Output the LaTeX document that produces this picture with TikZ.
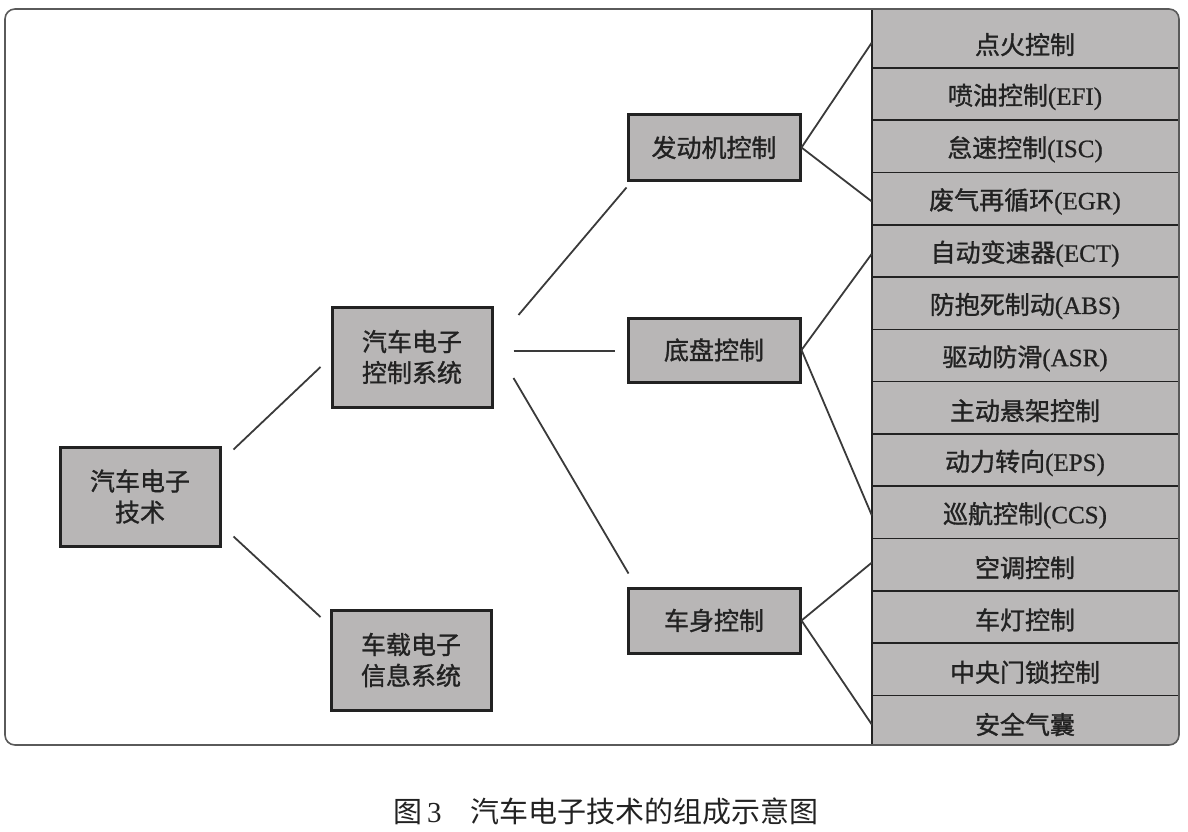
\documentclass[tikz,border=0pt]{standalone}
\usepackage{fontspec}
\setmainfont{Liberation Serif}
\newfontfamily\cjk{Noto Sans CJK SC}
\newfontfamily\cjkb[FakeBold=1.2]{Noto Sans CJK SC}
\newfontfamily\latb[FakeBold=0.8]{Liberation Serif}
\usetikzlibrary{calc}
\definecolor{boxgray}{RGB}{184,182,182}
\definecolor{colgray}{RGB}{186,184,184}
\definecolor{inkdark}{RGB}{34,34,34}
\definecolor{linegray}{RGB}{58,58,58}
\definecolor{framegray}{RGB}{90,90,90}
\begin{document}
\begin{tikzpicture}[x=1pt,y=-1pt,
  box/.style={draw=inkdark, line width=3pt, fill=boxgray, inner sep=0pt,
    align=center, text=inkdark, font=\cjkb\fontsize{25}{31}\selectfont},
  rowtext/.style={minimum width=306pt, minimum height=52pt, inner sep=0pt,
    text=inkdark, font=\cjkb\fontsize{25}{30}\selectfont},
  conn/.style={draw=linegray, line width=1.8pt},
  sepline/.style={draw=inkdark, line width=1.6pt}]
\useasboundingbox (0,0) rectangle (1188,832);
% right column background
\fill[colgray, rounded corners=10pt] (872,9) rectangle (1179,745);
\fill[colgray] (872,9) rectangle (1000,745);
\foreach \k in {1,...,13}
  \draw[sepline] (872,15.5+52.3*\k) -- (1179,15.5+52.3*\k);
\draw[draw=inkdark, line width=1.6pt] (872,9) -- (872,745);
% outer frame
\draw[draw=framegray, line width=1.6pt, rounded corners=10pt] (5,9) rectangle (1179,745);
% column rows
\foreach \t [count=\i from 0] in {点火控制, 喷油控制{\latb(EFI)}, 怠速控制{\latb(ISC)},
  废气再循环{\latb(EGR)}, 自动变速器{\latb(ECT)}, 防抱死制动{\latb(ABS)},
  驱动防滑{\latb(ASR)}, 主动悬架控制, 动力转向{\latb(EPS)}, 巡航控制{\latb(CCS)},
  空调控制, 车灯控制, 中央门锁控制, 安全气囊}
  \node[rowtext] (r\i) at (1025,44.6+52.3*\i) {\t};
% boxes
\node[box, minimum width=160pt, minimum height=99pt] (root) at (140,496.5) {汽车电子\\技术};
\node[box, minimum width=160pt, minimum height=100pt] (ctrl) at (412,357) {汽车电子\\控制系统};
\node[box, minimum width=160pt, minimum height=100pt] (info) at (411,660) {车载电子\\信息系统};
\node[box, minimum width=172pt, minimum height=65pt] (engine) at (714,147.5) {发动机控制};
\node[box, minimum width=172pt, minimum height=64pt] (chassis) at (714,350) {底盘控制};
\node[box, minimum width=172pt, minimum height=65pt] (body) at (714,620.5) {车身控制};
% connectors
\draw[conn] ($(root.north east)+(12,4)$) -- ($(ctrl.west)+(-10,10)$);
\draw[conn] ($(root.south east)+(12,-11)$) -- ($(info.west)+(-9,-43)$);
\draw[conn] ($(ctrl.east)+(25,-42)$) -- ($(engine.south west)+(0,6)$);
\draw[conn] ($(ctrl.east)+(20,-6)$) -- ($(chassis.west)+(-12,1)$);
\draw[conn] ($(ctrl.east)+(20,21)$) -- ($(body.north west)+(2,-13)$);
\draw[conn] (engine.east) -- ($(r0.west)+(0,-2)$);
\draw[conn] (engine.east) -- (r3.west);
\draw[conn] (chassis.east) -- (r4.west);
\draw[conn] (chassis.east) -- (r9.west);
\draw[conn] (body.east) -- ($(r10.west)+(0,-5)$);
\draw[conn] (body.east) -- (r13.west);
% caption
\node[font=\cjk\fontsize{29}{34}\selectfont, text=inkdark] (cap) at (606,811) {图{\rmfamily\,3}\quad 汽车电子技术的组成示意图};
\end{tikzpicture}
\end{document}
